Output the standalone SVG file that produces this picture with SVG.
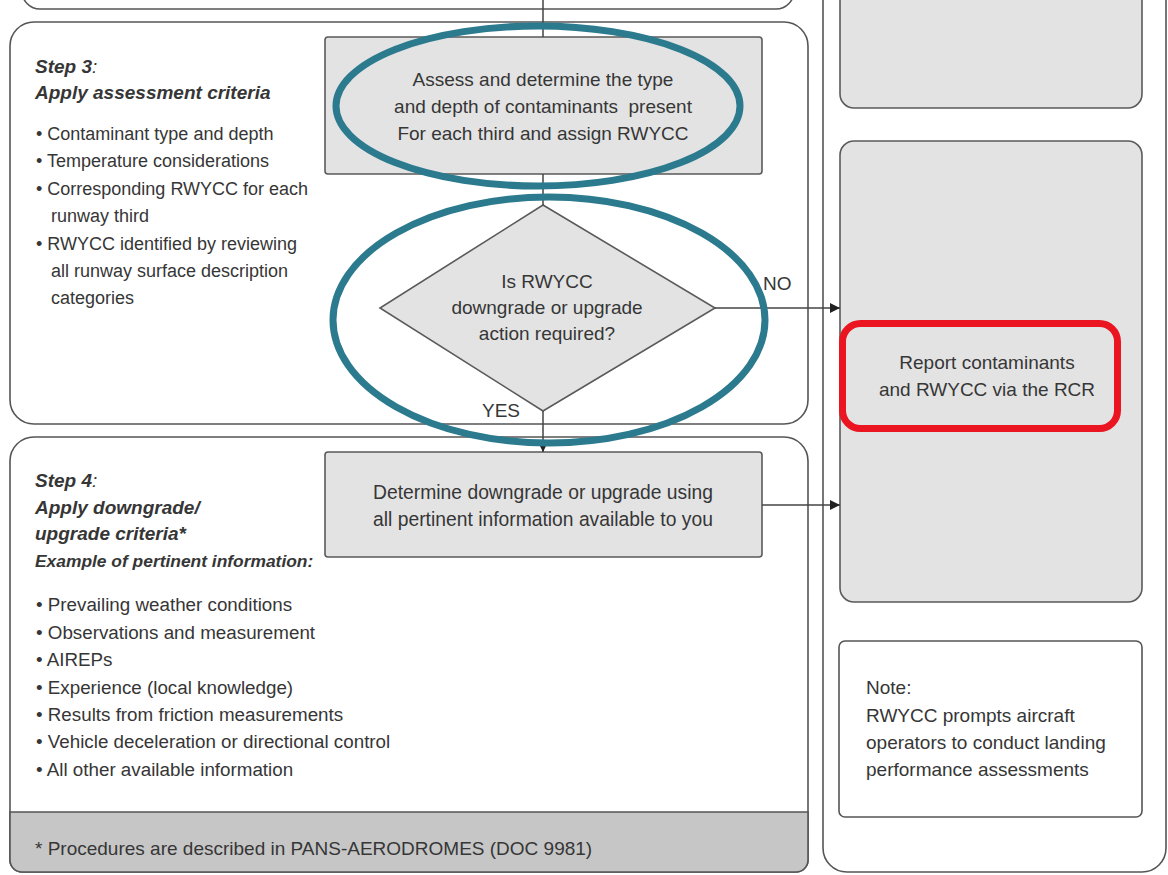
<svg xmlns="http://www.w3.org/2000/svg" width="1168" height="875" viewBox="0 0 1168 875">
  <style>
    .frame { fill: #ffffff; stroke: #555555; stroke-width: 1.6; }
    .proc { fill: #e3e3e3; stroke: #5a5a5a; stroke-width: 1.6; }
    .txt { font-family: "Liberation Sans", Arial, sans-serif; fill: #363636; }
    .list { font-size: 18px; }
    .list4 { font-size: 18.8px; }
    .body { font-size: 19px; }
    .head { font-size: 19px; font-weight: bold; font-style: italic; }
    .mid { text-anchor: middle; }
    .wire { fill: none; stroke: #444444; stroke-width: 1.5; }
    .ring { fill: none; stroke: #2b7a8e; stroke-width: 7; }
  </style>
  <defs>
    <marker id="arrow" viewBox="0 0 10 10" refX="10" refY="5" markerWidth="10" markerHeight="10" markerUnits="userSpaceOnUse" orient="auto">
      <path d="M0,0 L10,5 L0,10 Z" fill="#222222"/>
    </marker>
  </defs>

  <rect width="1168" height="875" fill="#ffffff"/>

  <!-- previous step, cut off at the top -->
  <g id="step2-frame">
    <rect class="frame" x="22" y="-60" width="772" height="69" rx="18"/>
  </g>

  <!-- right-hand column -->
  <g id="report-column">
    <rect class="frame" x="823" y="-40" width="343" height="912" rx="24"/>
  </g>
  <g id="column-top-box">
    <rect class="proc" x="840" y="-30" width="302" height="138" rx="14"/>
  </g>
  <g id="report-box">
    <rect class="proc" x="840" y="141" width="302" height="461" rx="14"/>
    <text class="txt body mid" x="987" y="369">Report contaminants</text>
    <text class="txt body mid" x="987" y="396">and RWYCC via the RCR</text>
  </g>
  <g id="report-highlight">
    <rect x="842.5" y="323.5" width="275" height="105" rx="18" fill="none" stroke="#ea1520" stroke-width="7"/>
  </g>
  <g id="note">
    <rect class="frame" x="839" y="641" width="303" height="176" rx="6"/>
    <text class="txt body" x="866" y="694">Note:</text>
    <text class="txt body" x="866" y="722">RWYCC prompts aircraft</text>
    <text class="txt body" x="866" y="749">operators to conduct landing</text>
    <text class="txt body" x="866" y="776">performance assessments</text>
  </g>

  <!-- Step 3 -->
  <g id="step3">
    <rect class="frame" x="10" y="22" width="798" height="402" rx="24"/>
    <text class="txt head" x="35" y="73">Step 3<tspan font-weight="normal">:</tspan></text>
    <text class="txt head" x="35" y="99">Apply assessment criteria</text>
    <text class="txt list" x="36" y="140">• Contaminant type and depth</text>
    <text class="txt list" x="36" y="167">• Temperature considerations</text>
    <text class="txt list" x="36" y="195">• Corresponding RWYCC for each</text>
    <text class="txt list" x="51" y="222">runway third</text>
    <text class="txt list" x="36" y="250">• RWYCC identified by reviewing</text>
    <text class="txt list" x="51" y="277">all runway surface description</text>
    <text class="txt list" x="51" y="304">categories</text>
  </g>
  <g id="assess">
    <rect class="proc" x="325" y="37" width="437" height="137" rx="3"/>
    <text class="txt body mid" x="543" y="86">Assess and determine the type</text>
    <text class="txt body mid" x="543" y="113" xml:space="preserve">and depth of contaminants  present</text>
    <text class="txt body mid" x="543" y="140">For each third and assign RWYCC</text>
  </g>
  <g id="decision">
    <polygon class="proc" points="543,205 715,308 543,411 380,308"/>
    <text class="txt body mid" x="547" y="288">Is RWYCC</text>
    <text class="txt body mid" x="547" y="314">downgrade or upgrade</text>
    <text class="txt body mid" x="547" y="340">action required?</text>
  </g>

  <!-- Step 4 -->
  <g id="step4">
    <path class="frame" d="M34,437 H784 A24,24 0 0 1 808,461 V860 A12,12 0 0 1 796,872 H22 A12,12 0 0 1 10,860 V461 A24,24 0 0 1 34,437 Z"/>
    <path d="M10,812 H808 V860 A12,12 0 0 1 796,872 H22 A12,12 0 0 1 10,860 Z" fill="#c6c6c6" stroke="#555555" stroke-width="1.6"/>
    <text class="txt head" x="35" y="487">Step 4<tspan font-weight="normal">:</tspan></text>
    <text class="txt head" x="35" y="514">Apply downgrade/</text>
    <text class="txt head" x="35" y="540">upgrade criteria*</text>
    <text class="txt head" x="35" y="567" style="font-size:17.4px">Example of pertinent information:</text>
    <text class="txt list4" x="36" y="611">• Prevailing weather conditions</text>
    <text class="txt list4" x="36" y="639">• Observations and measurement</text>
    <text class="txt list4" x="36" y="666">• AIREPs</text>
    <text class="txt list4" x="36" y="694">• Experience (local knowledge)</text>
    <text class="txt list4" x="36" y="721">• Results from friction measurements</text>
    <text class="txt list4" x="36" y="748">• Vehicle deceleration or directional control</text>
    <text class="txt list4" x="36" y="776">• All other available information</text>
    <text class="txt body" x="35" y="855">* Procedures are described in PANS-AERODROMES (DOC 9981)</text>
  </g>
  <g id="determine">
    <rect class="proc" x="325" y="452" width="437" height="105" rx="3"/>
    <text class="txt body mid" x="543" y="499" style="font-size:19.3px">Determine downgrade or upgrade using</text>
    <text class="txt body mid" x="543" y="526" style="font-size:19.3px">all pertinent information available to you</text>
  </g>

  <!-- connectors -->
  <g id="connectors">
    <line class="wire" x1="543" y1="0" x2="543" y2="37"/>
    <line class="wire" x1="543" y1="174" x2="543" y2="205"/>
    <line class="wire" x1="715" y1="308" x2="840" y2="308" marker-end="url(#arrow)"/>
    <line class="wire" x1="543" y1="411" x2="543" y2="452" marker-end="url(#arrow)"/>
    <line class="wire" x1="762" y1="505" x2="840" y2="505" marker-end="url(#arrow)"/>
    <text class="txt body" x="763" y="290">NO</text>
    <text class="txt body" x="482" y="417">YES</text>
  </g>

  <!-- highlight rings -->
  <g id="highlight-rings">
    <ellipse class="ring" cx="538" cy="106" rx="202" ry="80"/>
    <ellipse class="ring" cx="549" cy="320" rx="216" ry="123"/>
  </g>
</svg>
